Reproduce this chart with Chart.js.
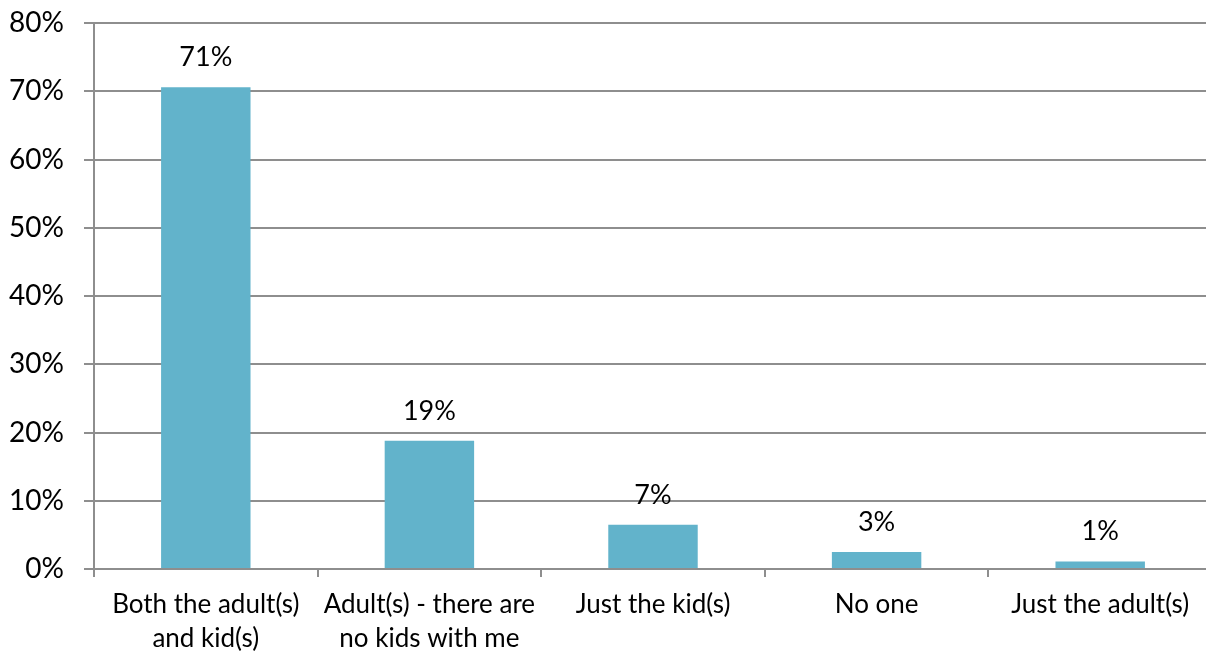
<!DOCTYPE html>
<html lang="en">
<head>
<meta charset="UTF-8">
<title>Who is with you</title>
<style>
    html, body {
        margin: 0;
        padding: 0;
        background: #fff;
        overflow: hidden;
    }
    #wrap {
        width: 1212px;
        height: 655px;
    }
</style>
</head>
<body>
<div id="wrap"><canvas id="chart"></canvas></div>

<script src="https://cdn.jsdelivr.net/npm/chart.js"></script>
<script>
    // data
    const categories = [
        ['Both the adult(s)', 'and kid(s)'],
        ['Adult(s) - there are', 'no kids with me'],
        'Just the kid(s)',
        'No one',
        'Just the adult(s)'
    ];
    const shares = [70.6, 18.8, 6.5, 2.5, 1.1];
    const yTicks = [0, 10, 20, 30, 40, 50, 60, 70, 80];

    const FONT = 'Lato, "Open Sans", sans-serif';
    const GRID = '#8e8e8e';

    // percentage labels above each bar
    const valueLabels = {
        id: 'valueLabels',
        afterDatasetsDraw(chart) {
            const ctx = chart.ctx;
            const meta = chart.getDatasetMeta(0);
            ctx.save();
            ctx.font = '27px ' + FONT;
            ctx.fillStyle = '#000';
            ctx.textAlign = 'center';
            ctx.textBaseline = 'alphabetic';
            meta.data.forEach((bar, i) => {
                const v = chart.data.datasets[0].data[i];
                ctx.fillText(Math.round(v) + '%', bar.x, bar.y - 21);
            });
            ctx.restore();
        }
    };

    new Chart(document.getElementById('chart'), {
        type: 'bar',
        data: {
            labels: categories,
            datasets: [{
                data: shares,
                backgroundColor: '#62b3cb',
                barPercentage: 0.4,
                categoryPercentage: 1.0
            }]
        },
        options: {
            responsive: true,
            maintainAspectRatio: false,
            animation: false,
            layout: { padding: { top: 23, right: 0, bottom: 0, left: 0 } },
            plugins: {
                legend: { display: false },
                tooltip: { enabled: false }
            },
            scales: {
                x: {
                    grid: {
                        offset: true,
                        drawOnChartArea: false,
                        drawTicks: true,
                        tickLength: 8,
                        color: GRID,
                        lineWidth: 2
                    },
                    border: { display: true, color: GRID, width: 2 },
                    ticks: {
                        color: '#000',
                        font: { family: FONT, size: 26, lineHeight: 1.3 },
                        padding: 11,
                        maxRotation: 0,
                        autoSkip: false
                    },
                    afterFit(scale) { scale.height = 86; }
                },
                y: {
                    min: 0,
                    max: 80,
                    afterBuildTicks(scale) {
                        scale.ticks = yTicks.map(v => ({ value: v }));
                    },
                    grid: {
                        color: GRID,
                        lineWidth: 2,
                        tickLength: 10
                    },
                    border: { display: true, color: GRID, width: 2 },
                    ticks: {
                        color: '#000',
                        font: { family: FONT, size: 28 },
                        padding: 20,
                        callback: v => v + '%'
                    },
                    afterFit(scale) {
                        scale.width = 94;
                        scale.paddingTop = 0;
                        scale.paddingBottom = 0;
                    }
                }
            }
        },
        plugins: [valueLabels]
    });
</script>
</body>
</html>
